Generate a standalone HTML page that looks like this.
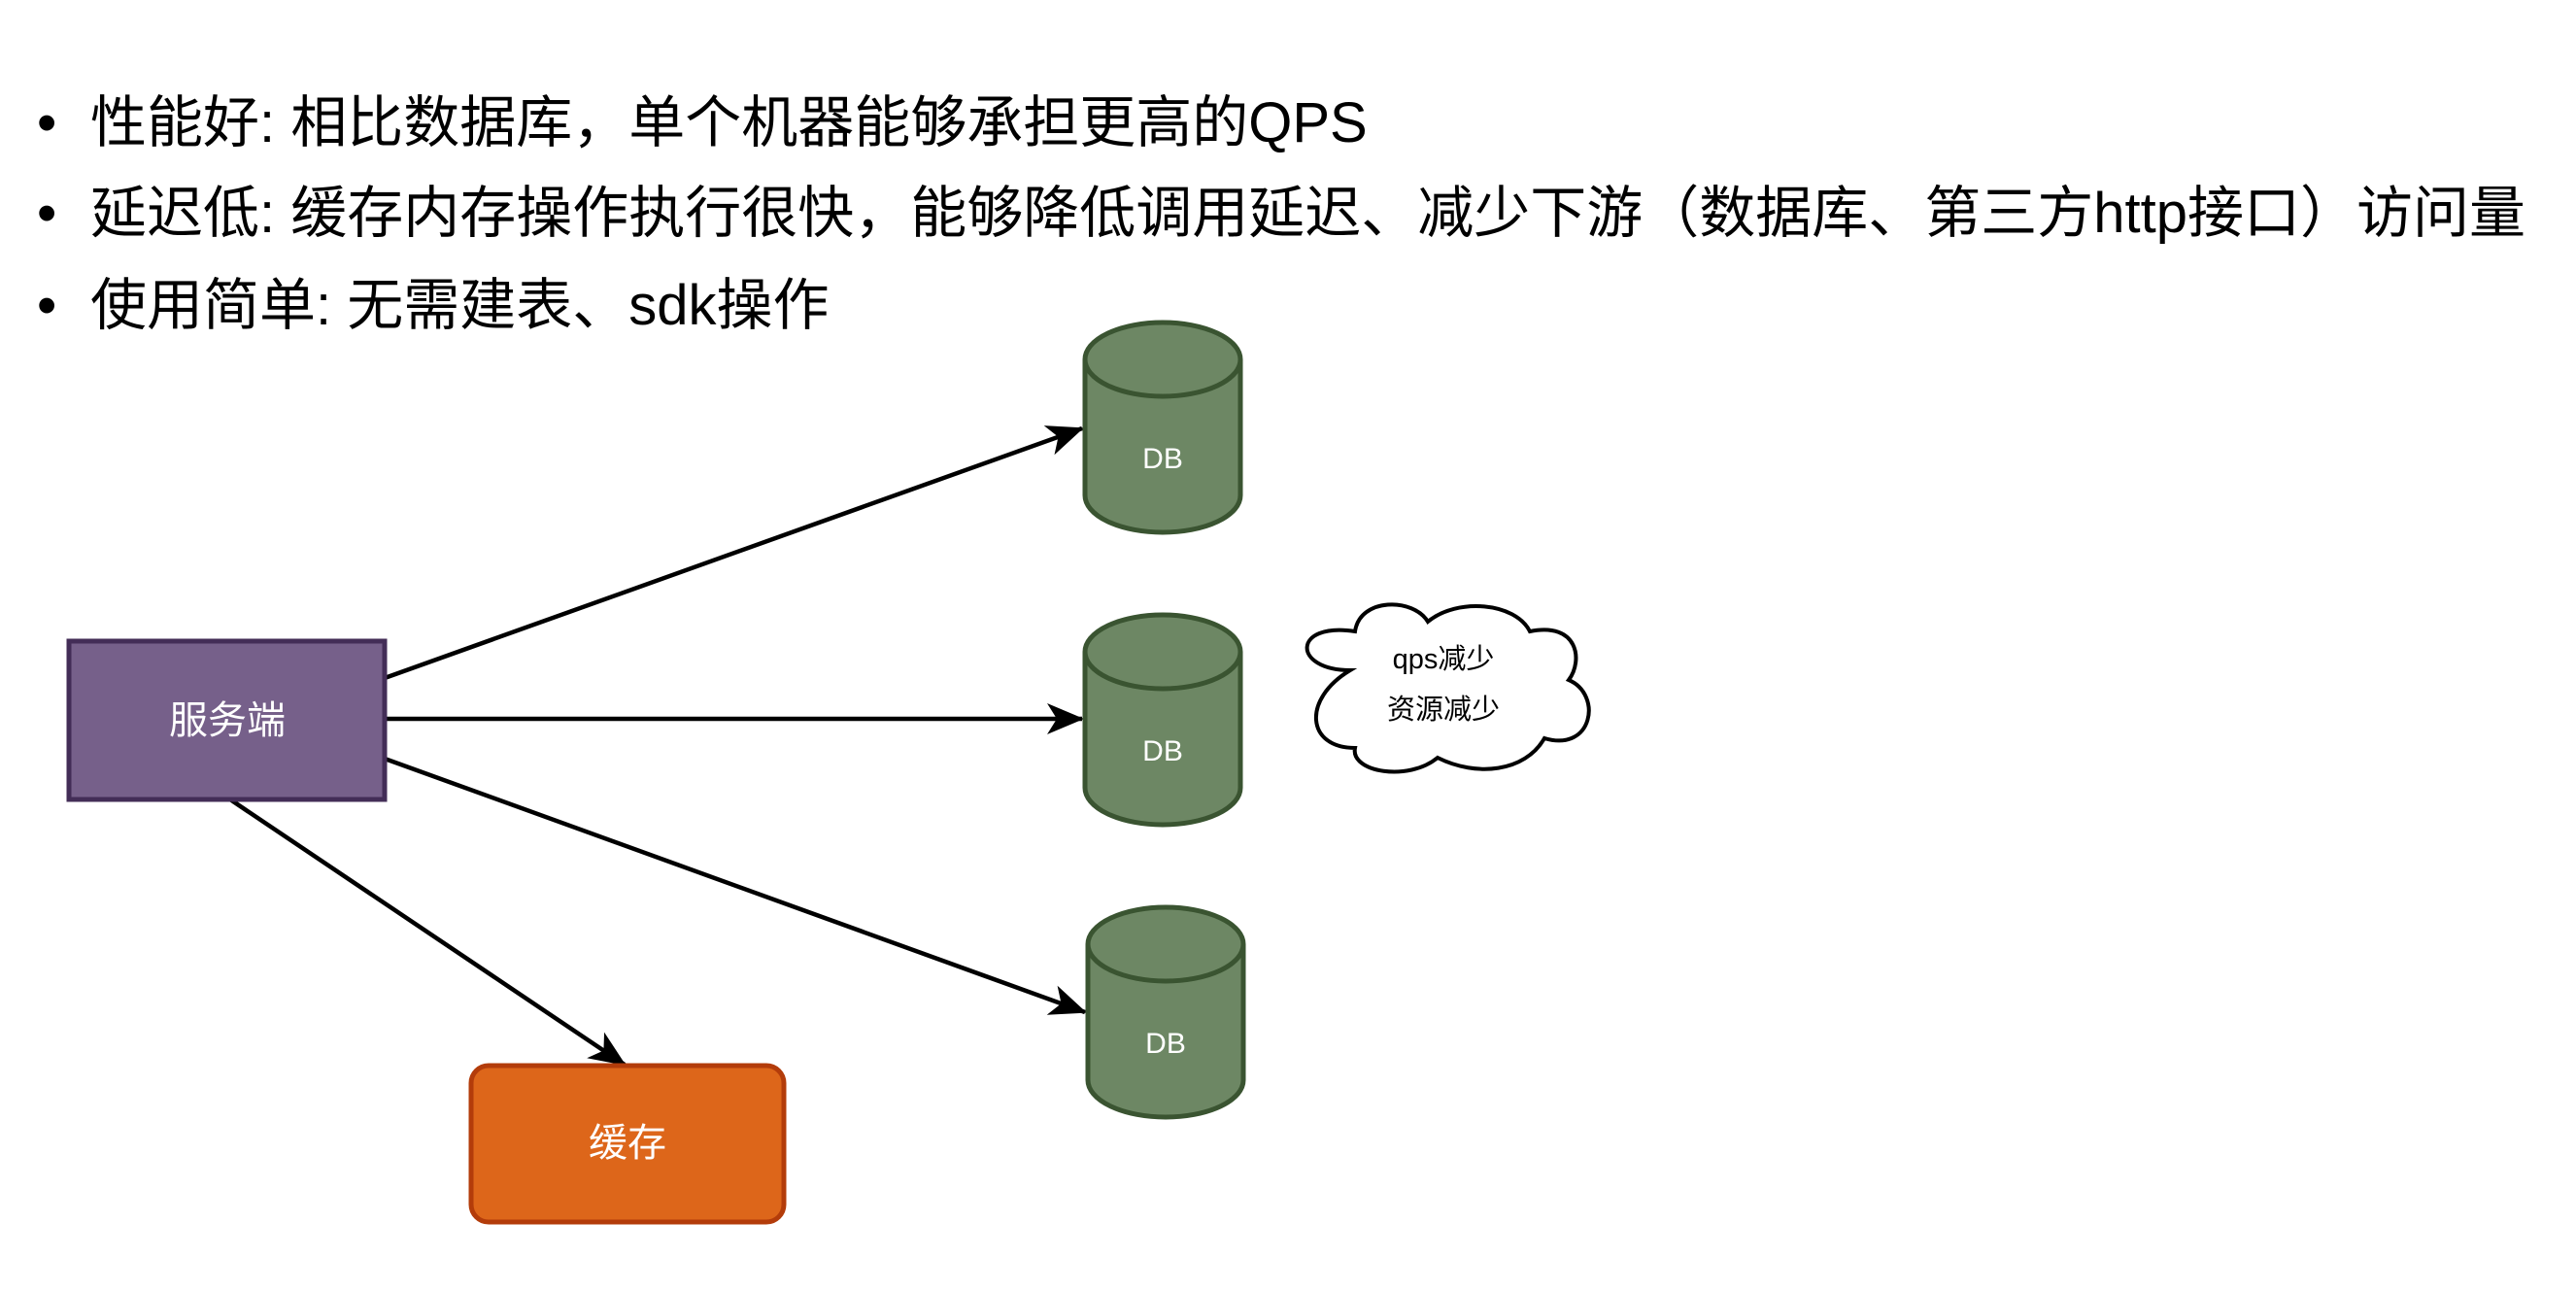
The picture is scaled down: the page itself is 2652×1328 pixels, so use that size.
<!DOCTYPE html>
<html><head><meta charset="utf-8"><style>
body{margin:0;width:2652px;height:1328px;background:#fff;overflow:hidden;position:relative;font-family:"Liberation Sans","Noto Sans CJK SC",sans-serif;}
.b{position:absolute;left:38px;font-size:58px;line-height:70px;color:#000;white-space:nowrap;}
.b span{display:inline-block;width:55px;}
svg{position:absolute;left:0;top:0}
</style></head><body>
<div class="b" style="top:92px"><span>•</span>性能好: 相比数据库，单个机器能够承担更高的QPS</div>
<div class="b" style="top:185px"><span>•</span>延迟低: 缓存内存操作执行很快，能够降低调用延迟、减少下游（数据库、第三方http接口）访问量</div>
<div class="b" style="top:280px"><span>•</span>使用简单: 无需建表、sdk操作</div>
<svg width="2652" height="1328" viewBox="0 0 2652 1328" font-family="Liberation Sans, Noto Sans CJK SC, sans-serif">
<defs>
<marker id="m" markerWidth="40" markerHeight="40" refX="36" refY="20" orient="auto" markerUnits="userSpaceOnUse" viewBox="0 0 40 40"><path d="M0,4 L38,20 L0,36 L10,20 z" fill="#000"/></marker></defs>
<g stroke="#000" stroke-width="4.5" fill="none">
<line x1="396" y1="698" x2="1114" y2="441" marker-end="url(#m)"/>
<line x1="396" y1="740" x2="1114" y2="740" marker-end="url(#m)"/>
<line x1="396" y1="781" x2="1117" y2="1042" marker-end="url(#m)"/>
<line x1="237" y1="823" x2="643" y2="1096" marker-end="url(#m)"/>
</g>
<rect x="71" y="660" width="325" height="163" fill="#76608a" stroke="#432d57" stroke-width="5"/>
<text x="234" y="755" font-size="40" fill="#fff" text-anchor="middle">服务端</text>
<rect x="485" y="1097" width="322" height="161" rx="18" fill="#dd661a" stroke="#b33c0a" stroke-width="5"/>
<text x="646" y="1190" font-size="40" fill="#fff" text-anchor="middle">缓存</text>
<g fill="#6d8764" stroke="#3a5431" stroke-width="5">
<path d="M1117,370 A80,38 0 0 1 1277,370 V510 A80,38 0 0 1 1117,510 Z"/><path d="M1117,370 A80,38 0 0 0 1277,370" fill="none"/>
<path d="M1117,671 A80,38 0 0 1 1277,671 V811 A80,38 0 0 1 1117,811 Z"/><path d="M1117,671 A80,38 0 0 0 1277,671" fill="none"/>
<path d="M1120,972 A80,38 0 0 1 1280,972 V1112 A80,38 0 0 1 1120,1112 Z"/><path d="M1120,972 A80,38 0 0 0 1280,972" fill="none"/>
</g>
<g font-size="30" fill="#fff" text-anchor="middle">
<text x="1197" y="482">DB</text><text x="1197" y="783">DB</text><text x="1200" y="1084">DB</text>
</g>
<path d="M1390,690 C1330,690 1330,640 1395,650 C1400,615 1455,615 1470,640 C1500,615 1560,620 1575,650 C1625,640 1630,680 1615,700 C1650,715 1640,775 1590,760 C1570,795 1520,800 1480,780 C1450,805 1390,795 1395,770 C1345,770 1340,720 1390,690 Z" fill="#fff" stroke="#000" stroke-width="4"/>
<g font-size="29" fill="#000" text-anchor="middle">
<text x="1486" y="688">qps减少</text><text x="1486" y="740">资源减少</text>
</g>
</svg>
</body></html>
